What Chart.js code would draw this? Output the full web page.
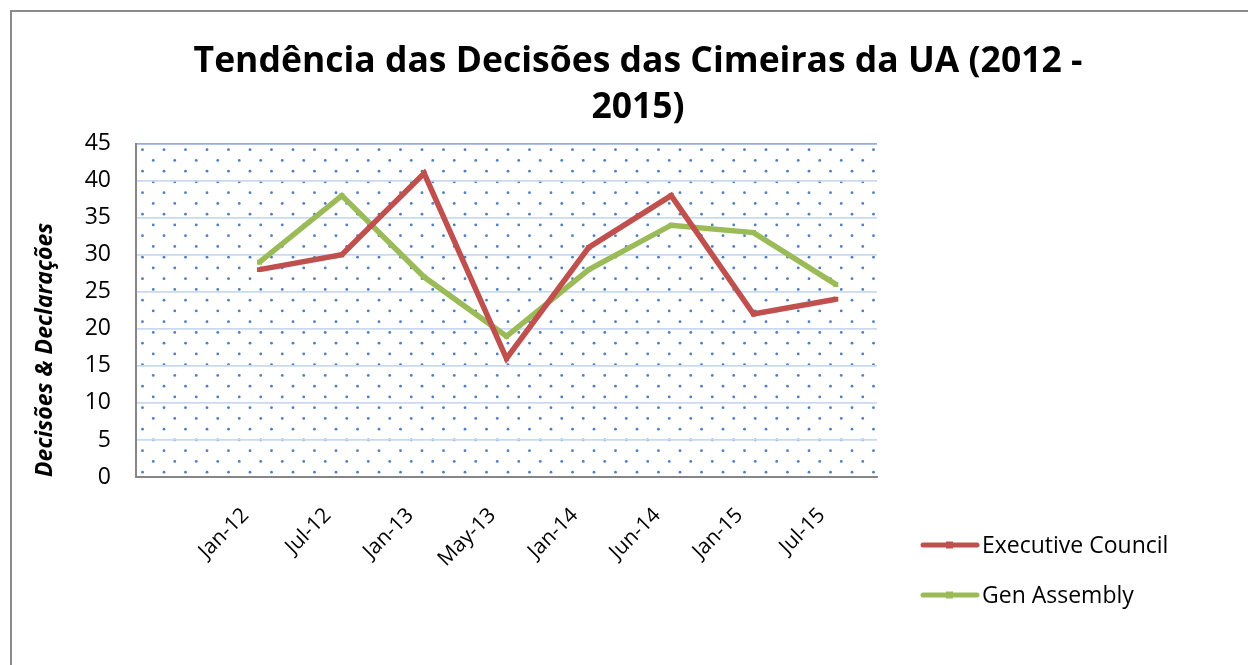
<!DOCTYPE html>
<html>
<head>
<meta charset="utf-8">
<script src="https://cdn.jsdelivr.net/npm/chart.js@4.4.1/dist/chart.umd.min.js"></script>
<style>
    html, body { margin: 0; padding: 0; background: #fff; }
    #wrap { position: relative; width: 1248px; height: 665px; overflow: hidden; }
    #frame { position: absolute; left: 10px; top: 10px; width: 1300px; height: 700px; border: 2px solid #8a8a8a; box-sizing: border-box; pointer-events: none; }
    canvas { position: absolute; left: 0; top: 0; }
</style>
</head>
<body>
<div id="wrap">
    <canvas id="chart" width="1248" height="665"></canvas>
    <div id="frame"></div>
</div>
<script>
const categories = ["", "Jan-12", "Jul-12", "Jan-13", "May-13", "Jan-14", "Jun-14", "Jan-15", "Jul-15"];
const executiveCouncil = [null, 28, 30, 41, 16, 31, 38, 22, 24];
const genAssembly = [null, 29, 38, 27, 19, 28, 34, 33, 26];
const yTicks = [0, 5, 10, 15, 20, 25, 30, 35, 40, 45];

const FONT = "'Open Sans', 'Liberation Sans', sans-serif";

// dotted fill of the plot area
const dotsPlugin = {
    id: "dots",
    beforeDraw(chart) {
        const { ctx, chartArea: a } = chart;
        ctx.save();
        ctx.fillStyle = "#4f7fc0";
        let row = 0;
        for (let y = a.top + 6; y < a.bottom; y += 10.75) {
            const start = a.left + 6.5 + (row % 2 ? 10.75 : 0);
            for (let x = start; x < a.right; x += 21.5) {
                ctx.beginPath();
                ctx.arc(x, y, 1.4, 0, Math.PI * 2);
                ctx.fill();
            }
            row++;
        }
        ctx.restore();
    }
};

// legend at the lower right, like the original
const sideLegend = {
    id: "sideLegend",
    afterDraw(chart) {
        const { ctx, chartArea: a } = chart;
        const x0 = a.right + 46;
        ctx.save();
        chart.data.datasets.forEach((ds, i) => {
            const y = 545 + i * 50;
            ctx.strokeStyle = ds.borderColor;
            ctx.lineWidth = 5;
            ctx.lineCap = "round";
            ctx.beginPath();
            ctx.moveTo(x0, y);
            ctx.lineTo(x0 + 54, y);
            ctx.stroke();
            ctx.fillStyle = ds.borderColor;
            ctx.fillRect(x0 + 23, y - 3.5, 7, 7);
            ctx.fillStyle = "#000";
            ctx.font = "23px " + FONT;
            ctx.textBaseline = "middle";
            ctx.fillText(ds.label, x0 + 59, y + 1);
        });
        ctx.restore();
    }
};

new Chart(document.getElementById("chart"), {
    type: "line",
    data: {
        labels: categories,
        datasets: [
            {
                label: "Executive Council",
                data: executiveCouncil,
                borderColor: "#c0504d",
                backgroundColor: "#c0504d",
                borderWidth: 5.5,
                pointStyle: "rect",
                pointRadius: 3.5,
                pointBorderWidth: 0,
                tension: 0,
            },
            {
                label: "Gen Assembly",
                data: genAssembly,
                borderColor: "#9bbb59",
                backgroundColor: "#9bbb59",
                borderWidth: 5.5,
                pointStyle: "rect",
                pointRadius: 3.5,
                pointBorderWidth: 0,
                tension: 0,
            },
        ],
    },
    options: {
        responsive: false,
        animation: false,
        layout: { padding: { top: 18, left: 28, right: 0, bottom: 0 } },
        plugins: {
            legend: { display: false },
            tooltip: { enabled: false },
            title: {
                display: true,
                text: ["Tendência das Decisões das Cimeiras da UA (2012 -", "2015)"],
                color: "#000",
                font: { family: FONT, size: 35.5, weight: "bold", lineHeight: 1.32 },
                padding: { top: 20, bottom: 12 },
            },
        },
        scales: {
            x: {
                offset: true,
                grid: { display: false, drawTicks: false },
                border: { display: true, color: "#868686", width: 2 },
                ticks: {
                    color: "#000",
                    font: { family: FONT, size: 21 },
                    maxRotation: 45,
                    minRotation: 45,
                    padding: 26,
                    labelOffset: -14,
                    autoSkip: false,
                },
                afterFit(scale) { scale.height = 188; },
            },
            y: {
                min: 0,
                max: 45,
                afterBuildTicks(scale) { scale.ticks = yTicks.map(v => ({ value: v })); },
                grid: {
                    drawTicks: false,
                    color: ctx => (ctx.tick && ctx.tick.value === 45 ? "#8fb0dc" : "#c9daf0"),
                    lineWidth: 1.8,
                },
                border: { display: true, color: "#868686", width: 2 },
                ticks: {
                    color: "#000",
                    font: { family: FONT, size: 23 },
                    padding: 25,
                },
                title: {
                    display: true,
                    align: "start",
                    text: "Decisões & Declarações",
                    color: "#000",
                    font: { family: FONT, size: 23, weight: "bold", style: "italic" },
                    padding: { top: 4, bottom: 0 },
                },
                afterFit(scale) { scale.width = 108; },
            },
            side: {
                type: "linear",
                position: "right",
                grid: { display: false, drawTicks: false },
                border: { display: false },
                ticks: { display: false },
                afterFit(scale) { scale.width = 371; },
            },
        },
    },
    plugins: [dotsPlugin, sideLegend],
});
</script>
</body>
</html>
